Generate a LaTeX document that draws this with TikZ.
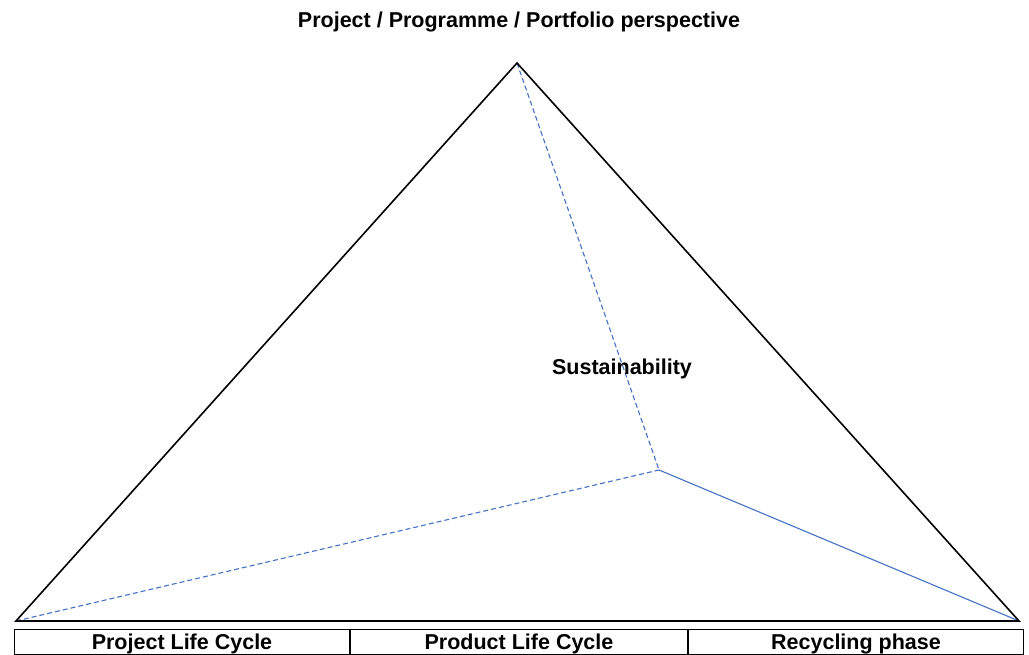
\documentclass[tikz,border=0pt]{standalone}
\usepackage{fontspec}
\setmainfont{Liberation Sans}
\definecolor{edgeblue}{RGB}{68,114,196}
\tikzset{
  outline/.style={draw=black, line width=1.6},
  hidden/.style={draw=edgeblue, line width=1.1, dash pattern={on 5pt off 3pt}},
  seen/.style={draw=edgeblue, line width=1.1},
  label/.style={font=\bfseries\fontsize{21.5}{25}\selectfont, inner sep=0},
  phase/.style={draw=black, line width=1, minimum height=25, inner sep=0, text depth=1pt, font=\bfseries\fontsize{21.5}{25}\selectfont}
}
\begin{document}
\begin{tikzpicture}[x=1pt,y=1pt,yscale=-1,xscale=1]
        \useasboundingbox (0,0) rectangle (1029,655);

        %Vertices
        \coordinate (left) at (16,621);
        \coordinate (right) at (1019,621);
        \coordinate (apex) at (517,63);
        \coordinate (back) at (659,470);

        %Straight Lines
        \draw [hidden]   (apex) -- (back) ;
        \draw [hidden]   (left) -- (back) ;
        \draw [seen]   (back) -- (right) ;

        %Shape: Triangle
        \draw [outline]   (left) -- (apex) -- (right) -- cycle ;

        %Text
        \node [label] (persp) at (519,22) {Project / Programme / Portfolio perspective};
        \node [label] (sust) at (622,369) {Sustainability};

        %Table
        \node [phase, minimum width=335, anchor=north west] (projlc) at (14,629) {Project Life Cycle};
        \node [phase, minimum width=337, anchor=north west] (prodlc) at (projlc.north east) {Product Life Cycle};
        \node [phase, minimum width=335, anchor=north west] (recyc) at (prodlc.north east) {Recycling phase};
\end{tikzpicture}
\end{document}
